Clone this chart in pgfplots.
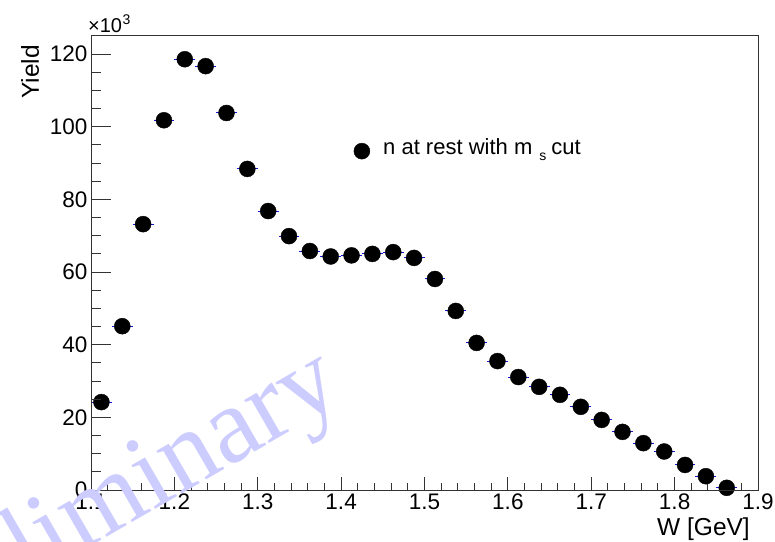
\documentclass[border=0pt]{standalone}
\usepackage{fontspec}
\setmainfont{Liberation Sans}
\newfontfamily\wmfont{Liberation Serif}
\usepackage{pgfplots}
\pgfplotsset{compat=1.18}
\definecolor{wm}{RGB}{204,204,255}
\definecolor{ebar}{RGB}{20,20,210}
\pgfplotstableread{
x y
1.1125 24.2
1.1375 45.1
1.1625 73.2
1.1875 101.8
1.2125 118.6
1.2375 116.7
1.2625 103.8
1.2875 88.4
1.3125 76.8
1.3375 69.9
1.3625 65.8
1.3875 64.3
1.4125 64.6
1.4375 65.0
1.4625 65.5
1.4875 63.9
1.5125 58.1
1.5375 49.3
1.5625 40.5
1.5875 35.5
1.6125 31.1
1.6375 28.4
1.6625 26.2
1.6875 22.9
1.7125 19.3
1.7375 16.0
1.7625 12.9
1.7875 10.6
1.8125 6.9
1.8375 3.8
1.8625 0.6
}\datatable
\begin{document}
\begin{tikzpicture}
\useasboundingbox (-91bp,-52bp) rectangle (684bp,490bp);
\clip (-91bp,-52bp) rectangle (684bp,490bp);
\pgfplotsset{
  myaxis/.style={
    at={(0,0)}, anchor=south west,
    scale only axis, width=667bp, height=454bp,
    xmin=1.1, xmax=1.9, ymin=0, ymax=125,
    xtick={1.1,1.2,...,1.91}, ytick={0,20,...,120},
    minor x tick num=4, minor y tick num=3,
    xtick pos=bottom, ytick pos=left,
    tick align=inside,
    axis line style={line width=1bp, black!80},
    every tick/.style={line width=1bp, black!80},
    /pgf/number format/assume math mode=true,
    tick label style={font=\fontsize{22.5bp}{25bp}\selectfont},
    scaled ticks=false,
    clip=false,
  }
}
\begin{axis}[myaxis, major tick length=13bp, minor tick length=7bp,
  xticklabels={1.1,1.2,1.3,1.4,1.5,1.6,1.7,1.8,1.9}]
\addplot[only marks, mark=*, mark size=8bp, black,
  error bars/.cd, x dir=both, x fixed=0.0125,
  error bar style={ebar, line width=1bp}, error mark=none]
  table[x=x, y=y] {\datatable};
\addplot[only marks, mark=*, mark size=8bp, black] coordinates {(1.4249,93.3)};
\end{axis}
\begin{axis}[myaxis, major tick length=20bp, minor tick length=10bp,
  xtick=\empty, yticklabels={}, minor x tick num=0]
\end{axis}
\node[anchor=base west, inner sep=0pt, font=\fontsize{22bp}{24bp}\selectfont] at (292bp,335bp)
  {n at rest with m\hspace{7bp}\raisebox{-6bp}{\fontsize{14bp}{14bp}\selectfont s}\hspace{5bp}cut};
\node[anchor=base east, inner sep=0pt, font=\fontsize{24.5bp}{26bp}\selectfont] at (659bp,-45bp) {W [GeV]};
\node[anchor=east, rotate=90, inner sep=0pt, font=\fontsize{24.5bp}{26bp}\selectfont] at (-61bp,445bp) {Yield};
\node[anchor=base west, inner sep=0pt, font=\fontsize{20bp}{22bp}\selectfont] (tenx) at (-3bp,457bp) {\texttimes 10};
\node[anchor=base west, inner sep=0pt, font=\fontsize{14bp}{16bp}\selectfont] at ([yshift=8bp]tenx.base east) {3};
\node[wm, rotate=30, anchor=base west, inner sep=0pt, font={\wmfont\fontsize{108bp}{110bp}\selectfont}] at (-187bp,-164.5bp) {Preliminary};
\end{tikzpicture}
\end{document}
